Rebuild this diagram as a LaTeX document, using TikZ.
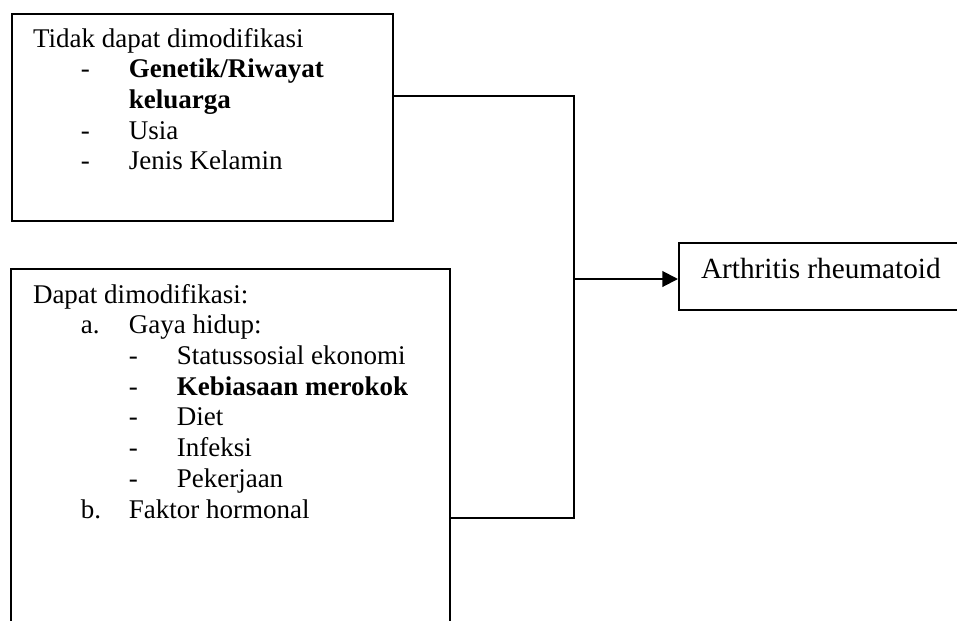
\documentclass[tikz,border=0pt]{standalone}
\usepackage{fontspec}
\setmainfont{Liberation Serif}
\usepackage{tikz}
\usetikzlibrary{arrows.meta}

\newcommand{\isifont}{\fontsize{12}{13.65}\selectfont}
\newcommand{\tabin}{\makebox[21.3pt][l]}

\begin{document}
\begin{tikzpicture}[x=0.4444pt, y=-0.4444pt, line width=0.9pt,
  kotak/.style={draw, rectangle, inner sep=0, anchor=north west},
  teks/.style={anchor=base west, inner sep=0, font=\isifont}]
\useasboundingbox (0,0) rectangle (957,621);
\clip (0,0) rectangle (957,621);

% kotak faktor risiko
\node[kotak, minimum width=169.3pt, minimum height=92pt] (tdk) at (11,13) {};
\node[kotak, minimum width=195.1pt, minimum height=200pt] (dpt) at (10,268) {};
\node[kotak, minimum width=150pt, minimum height=29.8pt] (ar) at (678,242) {};

\node[teks] (tdkisi) at (32,47) {\begin{tabular}[t]{@{}l@{}}
Tidak dapat dimodifikasi\\
\tabin{}\tabin{-}\textbf{Genetik/Riwayat}\\
\tabin{}\tabin{}\textbf{keluarga}\\
\tabin{}\tabin{-}Usia\\
\tabin{}\tabin{-}Jenis Kelamin
\end{tabular}};

\node[teks] (dptisi) at (32,303) {\begin{tabular}[t]{@{}l@{}}
Dapat dimodifikasi:\\
\tabin{}\tabin{a.}Gaya hidup:\\
\tabin{}\tabin{}\tabin{-}Statussosial ekonomi\\
\tabin{}\tabin{}\tabin{-}\textbf{Kebiasaan merokok}\\
\tabin{}\tabin{}\tabin{-}Diet\\
\tabin{}\tabin{}\tabin{-}Infeksi\\
\tabin{}\tabin{}\tabin{-}Pekerjaan\\
\tabin{}\tabin{b.}Faktor hormonal
\end{tabular}};

\node[teks, font=\fontsize{13}{15}\selectfont] (arisi) at (700,278) {Arthritis rheumatoid};

% penghubung
\coordinate (atas) at (574,96);
\coordinate (bawah) at (574,518);
\coordinate (tengah) at (574,279);
\draw (tdk.east |- atas) -- (atas) -- (bawah) -- (dpt.east |- bawah);
\draw[-{Triangle[length=7pt, width=7pt]}] (tengah) -- (ar.west |- tengah);
\end{tikzpicture}
\end{document}
